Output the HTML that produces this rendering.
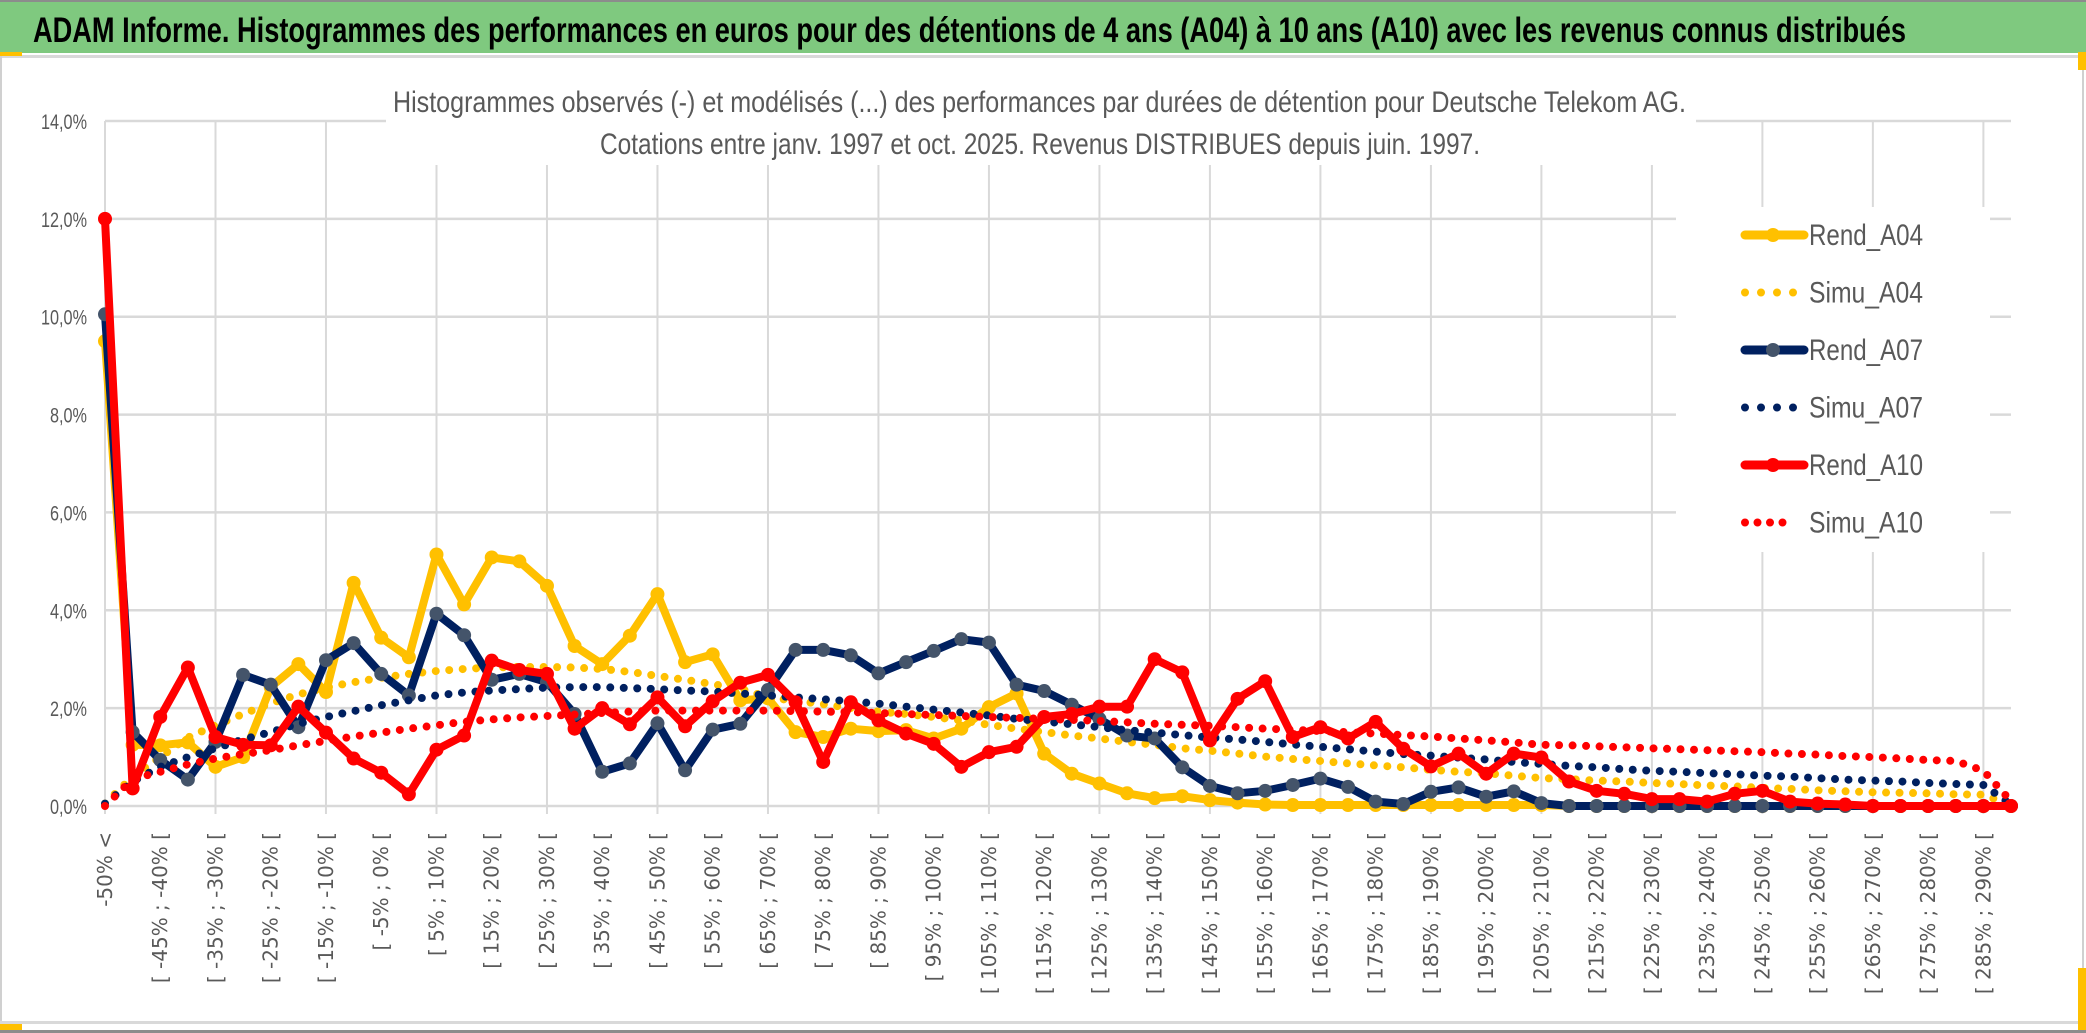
<!DOCTYPE html>
<html><head><meta charset="utf-8"><style>
html,body{margin:0;padding:0;background:#fff;}
svg{display:block;}
</style></head><body>
<svg id="chart" width="2086" height="1033" viewBox="0 0 2086 1033" xmlns="http://www.w3.org/2000/svg">
  <rect x="0" y="0" width="2086" height="1033" fill="#ffffff"/>
  <rect x="0" y="0" width="2086" height="2" fill="#8c8c8c"/>
  <rect x="0" y="2" width="2086" height="51" fill="#7fc97f"/>
  <text x="33" y="42" font-family="Liberation Sans, sans-serif" font-weight="bold" font-size="35" fill="#000" textLength="1873" lengthAdjust="spacingAndGlyphs">ADAM Informe. Histogrammes des performances en euros pour des détentions de 4 ans (A04) à 10 ans (A10) avec les revenus connus distribués</text>
  <rect x="0" y="55" width="2086" height="3" fill="#d9d9d9"/>
  <rect x="0" y="55" width="2" height="975" fill="#d0d0d0"/>
  <rect x="2082" y="55" width="2" height="975" fill="#d0d0d0"/>
  <rect x="0" y="1021" width="2086" height="3" fill="#d9d9d9"/>
  <rect x="0" y="1030" width="2086" height="3" fill="#8c8c8c"/>
  <rect x="0" y="52" width="22" height="4" fill="#ffc000"/>
  <rect x="2078" y="52" width="8" height="18" fill="#ffc000"/>
  <rect x="0" y="1024" width="22" height="6" fill="#ffc000"/>
  <rect x="2078" y="968" width="8" height="62" fill="#ffc000"/>
  <g id="grid"></g>
  <g id="series"></g>
  <g id="xlabels"></g>
  <g id="ylabels"></g>
  <rect x="386" y="78" width="1310" height="87" fill="#ffffff"/>
  <text x="393" y="112" font-family="Liberation Sans, sans-serif" font-size="30" fill="#595959" textLength="1293" lengthAdjust="spacingAndGlyphs">Histogrammes observés (-) et modélisés (...) des performances par durées de détention pour Deutsche Telekom AG.</text>
  <text x="600" y="154" font-family="Liberation Sans, sans-serif" font-size="30" fill="#595959" textLength="880" lengthAdjust="spacingAndGlyphs">Cotations entre janv. 1997 et oct. 2025. Revenus DISTRIBUES depuis juin. 1997.</text>
  <rect x="1676" y="207" width="314" height="345" fill="#ffffff"/>
  <g id="legend"></g>
</svg>
<script>
const yTicks = [0, 2, 4, 6, 8, 10, 12, 14];
const yTickLabels = ["0,0%", "2,0%", "4,0%", "6,0%", "8,0%", "10,0%", "12,0%", "14,0%"];
const seriesNames = ["Rend_A04", "Simu_A04", "Rend_A07", "Simu_A07", "Rend_A10", "Simu_A10"];
const rendA04 = [9.5,1.25,1.24,1.3,0.8,1.0,2.43,2.9,2.33,4.56,3.44,3.04,5.14,4.12,5.08,5.0,4.5,3.27,2.9,3.48,4.33,2.94,3.1,2.16,2.2,1.51,1.41,1.58,1.53,1.55,1.38,1.58,2.02,2.3,1.07,0.66,0.46,0.26,0.16,0.2,0.12,0.07,0.03,0.02,0.02,0.02,0.02,0.02,0.02,0.02,0.02,0.02,0.02,0,0,0,0,0,0,0,0,0,0,0,0,0,0,0,0,0];
const simuA04 = [0.05,0.6,1.0,1.4,1.65,1.88,2.1,2.28,2.42,2.53,2.62,2.7,2.76,2.8,2.83,2.84,2.84,2.83,2.8,2.74,2.66,2.58,2.49,2.4,2.22,2.15,2.08,2.0,1.93,1.88,1.82,1.75,1.66,1.58,1.51,1.44,1.38,1.31,1.25,1.18,1.13,1.07,1.01,0.96,0.92,0.87,0.83,0.79,0.74,0.7,0.67,0.62,0.57,0.55,0.52,0.5,0.47,0.45,0.42,0.4,0.37,0.35,0.32,0.3,0.28,0.27,0.26,0.24,0.23,0.02];
const rendA07 = [10.05,1.51,0.94,0.54,1.31,2.68,2.48,1.61,2.98,3.33,2.7,2.26,3.93,3.49,2.58,2.7,2.53,1.88,0.7,0.87,1.69,0.73,1.56,1.68,2.37,3.19,3.19,3.08,2.71,2.94,3.17,3.41,3.34,2.48,2.35,2.07,1.78,1.44,1.38,0.79,0.41,0.26,0.31,0.43,0.56,0.39,0.09,0.04,0.29,0.38,0.19,0.3,0.06,0,0,0,0,0,0,0,0,0,0,0,0,0,0,0,0,0];
const simuA07 = [0.05,0.5,0.8,1.0,1.18,1.36,1.51,1.68,1.82,1.94,2.06,2.16,2.26,2.32,2.36,2.39,2.42,2.43,2.43,2.41,2.39,2.36,2.34,2.3,2.26,2.22,2.18,2.14,2.09,2.03,1.97,1.91,1.85,1.78,1.73,1.67,1.61,1.55,1.5,1.45,1.4,1.36,1.31,1.26,1.21,1.16,1.11,1.06,1.03,0.99,0.95,0.9,0.86,0.82,0.79,0.75,0.72,0.7,0.67,0.65,0.62,0.6,0.57,0.54,0.52,0.5,0.47,0.45,0.43,0.03];
const rendA10 = [12.0,0.36,1.82,2.83,1.41,1.25,1.24,2.03,1.5,0.97,0.68,0.24,1.15,1.44,2.97,2.78,2.7,1.58,2.0,1.67,2.22,1.63,2.14,2.52,2.68,2.12,0.9,2.12,1.75,1.48,1.27,0.8,1.1,1.21,1.82,1.88,2.03,2.03,3.0,2.73,1.34,2.19,2.55,1.41,1.61,1.38,1.72,1.17,0.81,1.07,0.66,1.07,0.99,0.5,0.31,0.25,0.14,0.14,0.09,0.25,0.31,0.09,0.05,0.03,0,0,0,0,0,0];
const simuA10 = [0.0,0.55,0.7,0.85,0.97,1.06,1.14,1.24,1.33,1.42,1.5,1.58,1.65,1.72,1.77,1.81,1.84,1.87,1.9,1.93,1.95,1.95,1.95,1.95,1.95,1.94,1.93,1.92,1.9,1.88,1.86,1.84,1.82,1.8,1.78,1.76,1.74,1.71,1.68,1.66,1.64,1.61,1.58,1.56,1.53,1.51,1.48,1.45,1.42,1.38,1.34,1.3,1.25,1.24,1.22,1.2,1.18,1.16,1.14,1.12,1.1,1.07,1.05,1.02,1.0,0.97,0.94,0.92,0.72,0.1];

const categories = ["-50% <"];
for (let k = 1; k < 70; k++) { const lo = -50 + 5 * (k - 1); categories.push("[ " + lo + "% ; " + (lo + 5) + "% ["); }

const NS = "http://www.w3.org/2000/svg";
const X0 = 105, X1 = 2011, Y0 = 806, YTOP = 121, YMAX = 14;
const xScale = i => X0 + (X1 - X0) * i / (categories.length - 1);
const yScale = v => Y0 - (Y0 - YTOP) * v / YMAX;
function mk(tag, attrs, parent) { const e = document.createElementNS(NS, tag); for (const k in attrs) e.setAttribute(k, attrs[k]); parent.appendChild(e); return e; }

const grid = document.getElementById('grid');
yTicks.forEach((t, i) => {
  const l = mk('line', {x1: X0, x2: X1, y1: yScale(t), y2: yScale(t), stroke: '#d9d9d9', 'stroke-width': 2.5}, grid);
  
  
});
for (let i = 0; i < categories.length; i += 4) {
  const l = mk('line', {x1: xScale(i), x2: xScale(i), y1: YTOP, y2: Y0 + 8, stroke: '#d9d9d9', 'stroke-width': 2}, grid);
  
  
}

const yl = document.getElementById('ylabels');
yTicks.forEach((t, i) => {
  const w = yTickLabels[i].length === 5 ? 46 : 37;
  const tx = mk('text', {x: 87 - w, y: yScale(t) + 8, 'font-family': 'Liberation Sans, sans-serif', 'font-size': 21, fill: '#595959', textLength: w, lengthAdjust: 'spacingAndGlyphs'}, yl);
  tx.textContent = yTickLabels[i];
  
  
});

const xl = document.getElementById('xlabels');
categories.forEach((c, i) => {
  if (!(i === 0 || (i % 2 === 0 && i < 69))) return;
  const x = xScale(i) + 7, y = 832;
  const tx = mk('text', {x: x, y: y, transform: 'rotate(-90 ' + x + ' ' + y + ')', 'text-anchor': 'end', 'font-family': 'DejaVu Sans, sans-serif', 'font-size': 20, fill: '#595959'}, xl);
  tx.textContent = c;
  
  
});

const seriesData = [rendA04, simuA04, rendA07, simuA07, rendA10, simuA10];
const lineColors = ['#ffc000', '#ffc000', '#002060', '#002060', '#ff0000', '#ff0000'];
const markerColors = ['#ffc000', null, '#44546a', null, '#ff0000', null];
const sg = document.getElementById('series');
seriesData.forEach((vals, s) => {
  const g = mk('g', {}, sg);
  
  
  const pts = vals.map((v, i) => xScale(i).toFixed(1) + ',' + yScale(v).toFixed(1)).join(' ');
  const dotted = markerColors[s] === null;
  const pl = mk('polyline', {points: pts, fill: 'none', stroke: lineColors[s], 'stroke-width': dotted ? 8 : 8, 'stroke-linejoin': 'round', 'stroke-linecap': 'round'}, g);
  if (dotted) pl.setAttribute('stroke-dasharray', '0 13.5');
  
  
  if (!dotted) {
    vals.forEach((v, i) => {
      const c = mk('circle', {cx: xScale(i), cy: yScale(v), r: 7, fill: markerColors[s]}, g);
      
      
    });
  }
});

const lg = document.getElementById('legend');
seriesNames.forEach((n, s) => {
  const cy = 235 + s * 57.5;
  const g = mk('g', {}, lg);
  
  
  const dotted = markerColors[s] === null;
  const ln = mk('line', {x1: 1745, x2: dotted ? 1795 : 1804, y1: cy, y2: cy, stroke: lineColors[s], 'stroke-width': dotted ? 8 : 9, 'stroke-linecap': 'round'}, g);
  if (dotted) ln.setAttribute('stroke-dasharray', s === 5 ? '0 12.5' : '0 16');
  
  
  if (!dotted) {
    const m = mk('circle', {cx: 1773, cy: cy, r: 7, fill: markerColors[s]}, g);
    
    
  }
  const t = mk('text', {x: 1809, y: cy + 10, 'font-family': 'Liberation Sans, sans-serif', 'font-size': 30, fill: '#595959', textLength: 114, lengthAdjust: 'spacingAndGlyphs'}, g);
  t.textContent = n;
  
  
});
</script>
</body></html>
